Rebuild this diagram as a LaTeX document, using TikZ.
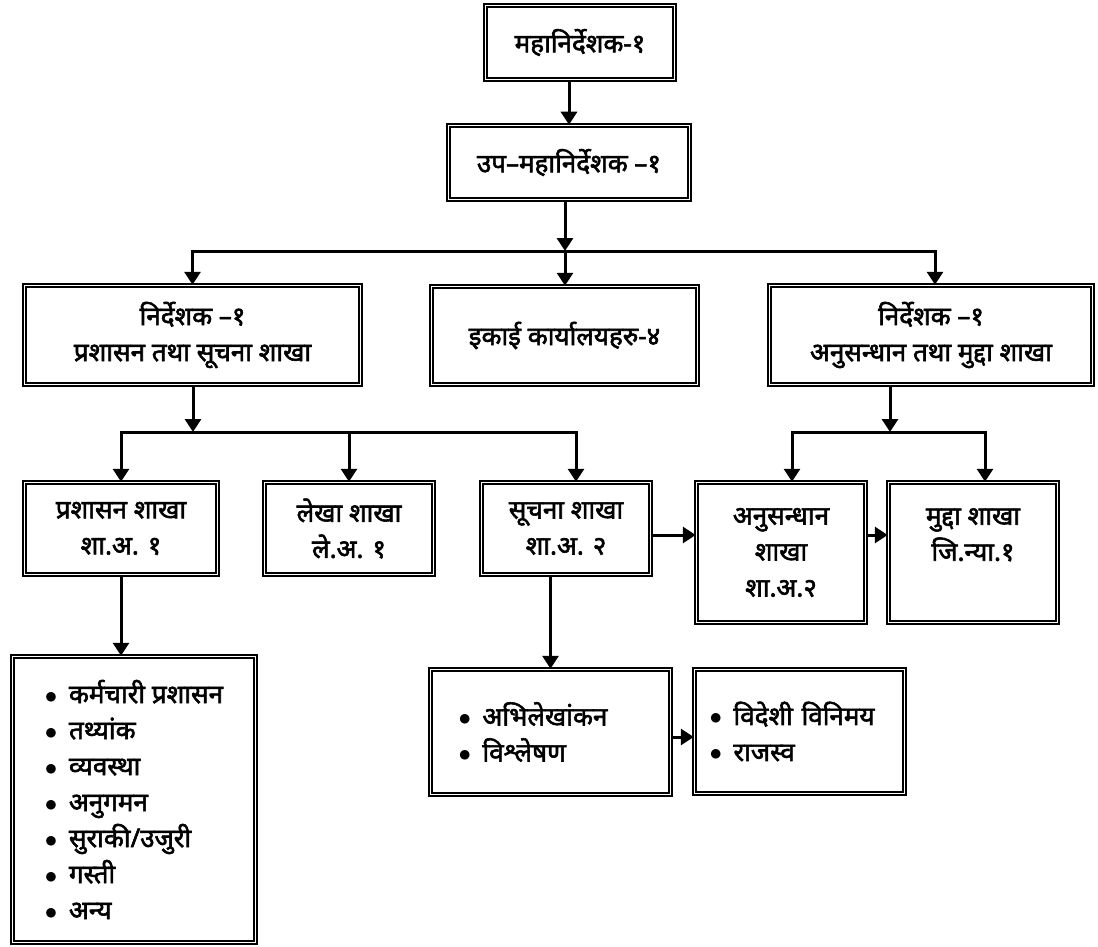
\documentclass[tikz,border=0pt]{standalone}
\usepackage{fontspec}
\newfontfamily\devfont[Script=Devanagari,FakeBold=2.2]{Noto Sans}
\usetikzlibrary{arrows.meta}
\newcommand\itm{\makebox[24pt][l]{\fontsize{32}{32}\selectfont$\bullet$}}
\tikzset{
  box/.style={draw, double, double distance=1.8pt, line width=1.5pt,
    align=center, inner sep=0pt,
    font={\devfont\fontsize{26}{36}\selectfont}},
  listbox/.style={box, align=left, inner xsep=28pt},
  arr/.style={line width=3pt, -{Triangle[width=16pt,length=13pt]}}
}

\begin{document}
\begin{tikzpicture}[x=1pt,y=-1pt]
  \useasboundingbox (0,0) rectangle (1098,947);

  % top of the chart
  \node[box,minimum width=189pt,minimum height=74pt] (dg) at (580,42.5) {महानिर्देशक-१};
  \node[box,minimum width=241pt,minimum height=74pt] (ddg) at (569,162.5) {उप–महानिर्देशक –१};

  % directors and unit offices
  \node[box,minimum width=336pt,minimum height=99pt] (dirA) at (192.5,335) {निर्देशक –१\\प्रशासन तथा सूचना शाखा};
  \node[box,minimum width=266pt,minimum height=98pt] (unit) at (564.5,335.5) {इकाई कार्यालयहरु-४};
  \node[box,minimum width=323pt,minimum height=99pt] (dirB) at (931,335) {निर्देशक –१\\अनुसन्धान तथा मुद्दा शाखा};

  % branches
  \node[box,minimum width=193pt,minimum height=92pt] (admin) at (121,528.5) {प्रशासन शाखा\\शा.अ. १};
  \node[box,minimum width=169pt,minimum height=92pt] (acct) at (349,528.5) {लेखा शाखा\\ले.अ. १};
  \node[box,minimum width=169pt,minimum height=92pt] (info) at (566,528.5) {सूचना शाखा\\शा.अ. २};
  \node[box,minimum width=169pt,minimum height=140pt] (inv) at (781,552.5) {अनुसन्धान\\शाखा\\शा.अ.२};
  \node[box,minimum width=169pt,minimum height=140pt] (case) at (973,552.5) {मुद्दा शाखा\\जि.न्या.१\\\mbox{}};

  % task lists
  \node[listbox,minimum width=243pt,minimum height=286pt] (tasksA) at (134,799.5)
    {\itm कर्मचारी प्रशासन\\\itm तथ्यांक\\\itm व्यवस्था\\\itm अनुगमन\\\itm सुराकी/उजुरी\\\itm गस्ती\\\itm अन्य};
  \node[listbox,text width=184pt,minimum height=125pt] (tasksB) at (550.5,732)
    {\itm अभिलेखांकन\\\itm विश्लेषण};
  \node[listbox,inner xsep=15pt,text width=180pt,minimum height=124pt] (tasksC) at (799.5,731.5)
    {\itm विदेशी विनिमय\\\itm राजस्व};

  % junctions
  \coordinate (j1) at (565,251);
  \coordinate (j2) at (193,432);
  \coordinate (j3) at (890,432);
  \coordinate (h1) at (0,535);
  \coordinate (h2) at (0,737);

  % connectors
  \draw[arr] (dg.south -| ddg.north) -- (ddg.north);
  \draw[arr] (ddg.south -| j1) -- (j1);
  \draw[arr] (j1) -| (dirA.north);
  \draw[arr] (j1) -- (j1 |- unit.north);
  \draw[arr] (j1) -| ([xshift=4pt]dirB.north);

  \draw[arr] (dirA.south -| j2) -- (j2);
  \draw[arr] (j2) -| (admin.north);
  \draw[arr] (j2 -| acct.north) -- (acct.north);
  \draw[arr] (j2) -| ([xshift=10pt]info.north);

  \draw[arr] (dirB.south -| j3) -- (j3);
  \draw[arr] (j3) -| ([xshift=11pt]inv.north);
  \draw[arr] (j3) -| ([xshift=12pt]case.north);

  \draw[arr] (info.east |- h1) -- (inv.west |- h1);
  \draw[arr] (inv.east |- h1) -- (case.west |- h1);

  \draw[arr] (admin.south) -- (admin.south |- tasksA.north);
  \draw[arr] (tasksB.north |- info.south) -- (tasksB.north);
  \draw[arr] (tasksB.east |- h2) -- (tasksC.west |- h2);
\end{tikzpicture}
\end{document}
